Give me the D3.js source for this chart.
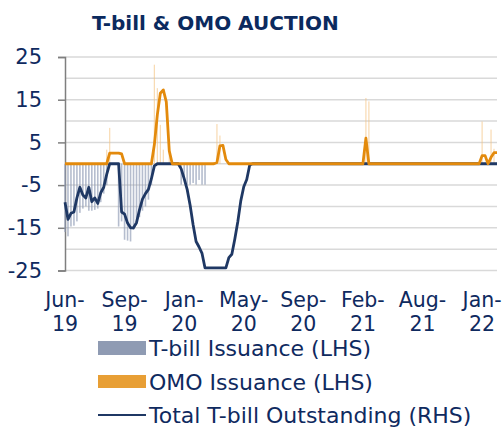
<!DOCTYPE html>
<html>
<head>
<meta charset="utf-8">
<script src="https://cdn.jsdelivr.net/npm/d3@7"></script>
<style>
  body { margin: 0; background: #fff; }
  text { font-family: "DejaVu Sans", Verdana, sans-serif; fill: #0f2a5f; }
</style>
</head>
<body>
<div id="grafico"></div>
<script>
// Datos (una categoria por subasta, etiqueta cada 20 categorias)
var tickLabels = ["Jun-19", "Sep-19", "Jan-20", "May-20", "Sep-20", "Feb-21", "Aug-21", "Jan-22"];
var labelStep = 20;

// T-bill Issuance (LHS) - barras negativas
var tbillIssuance = [
  -16, -17, -14.7, -14.5, -13.5, -11.5, -10.5, -10, -11, -11, -10.8, -10.5, -9, -7, -5, 0, 0, 0, -14.7, -13.5,
  -17.8, -18, -18.2, -15.5, -14, -12.5, -11, -10, -8.4, -5, 0, 0, 0, 0, 0, 0, 0, 0, 0, -4.9,
  -3.5, -4.9, -4.9, -4.5, -4.9, -3.8, -4.9, -4.9, 0, 0, 0, 0, 0, 0, 0, 0, 0, 0, 0, 0,
  0, 0, 0, 0, 0, 0, 0, 0, 0, 0, 0, 0, 0, 0, 0, 0, 0, 0, 0, 0,
  0, 0, 0, 0, 0, 0, 0, 0, 0, 0, 0, 0, 0, 0, 0, 0, 0, 0, 0, 0,
  0, 0, 0, 0, 0, 0, 0, 0, 0, 0, 0, 0, 0, 0, 0, 0, 0, 0, 0, 0,
  0, 0, 0, 0, 0, 0, 0, 0, 0, 0, 0, 0, 0, 0, 0, 0, 0, 0, 0, 0,
  0, 0, 0, 0, 0, 0
];

// OMO Issuance (LHS) - barras positivas
var omoIssuance = [
  0, 0, 0, 0, 0, 0, 0, 0, 0, 0, 0, 0, 0, 0, 3.3, 8.4, 0, 0, 0, 0,
  0, 0, 0, 0, 0, 0, 0, 0, 0, 0, 23.2, 17.7, 9.1, 3.3, 0, 3.3, 0, 0, 0, 0,
  0, 0, 0, 0, 0, 0, 0, 0, 0, 0, 0, 9.3, 6.6, 0, 0, 0, 0, 0, 0, 0,
  0, 0, 0, 0, 0, 0, 0, 0, 0, 0, 0, 0, 0, 0, 0, 0, 0, 0, 0, 0,
  0, 0, 0, 0, 0, 0, 0, 0, 0, 0, 0, 0, 0, 0, 0, 0, 0, 0, 0, 0,
  0, 15.4, 14.6, 0, 0, 0, 0, 0, 0, 0, 0, 0, 0, 0, 0, 0, 0, 0, 0, 0,
  0, 0, 0, 0, 0, 0, 0, 0, 0, 0, 0, 0, 0, 0, 0, 0, 0, 0, 0, 0,
  9.9, 0, 0, 8, 3.5, 0
];

// Total T-bill Outstanding (RHS) - linea azul
var tbillOutstanding = [
  -9, -13, -11.6, -11.3, -8, -5.5, -7.3, -8, -5.5, -8.9, -8, -9.3, -6.8, -5.5, -2.5, 0, 0, 0, 0, -11.3,
  -11.8, -13.9, -15, -15, -13.8, -10.8, -8.3, -7, -6, -3.5, -0.5, 0, 0, 0, 0, 0, 0, 0, 0, -1.2,
  -3.5, -6, -9.7, -14.3, -18.2, -19.5, -21, -24.4, -24.4, -24.4, -24.4, -24.4, -24.4, -24.4, -24.4, -22, -21.2, -17.6, -13.6, -8.7,
  -5.4, -3.7, -0.3, 0, 0, 0, 0, 0, 0, 0, 0, 0, 0, 0, 0, 0, 0, 0, 0, 0,
  0, 0, 0, 0, 0, 0, 0, 0, 0, 0, 0, 0, 0, 0, 0, 0, 0, 0, 0, 0,
  0, 0, 0, 0, 0, 0, 0, 0, 0, 0, 0, 0, 0, 0, 0, 0, 0, 0, 0, 0,
  0, 0, 0, 0, 0, 0, 0, 0, 0, 0, 0, 0, 0, 0, 0, 0, 0, 0, 0, 0,
  0, 0, 0, 0, 0, 0
];

// OMO Outstanding - linea naranja
var omoOutstanding = [
  0, 0, 0, 0, 0, 0, 0, 0, 0, 0, 0, 0, 0, 0, 0, 2.5, 2.5, 2.5, 2.5, 2.3,
  0, 0, 0, 0, 0, 0, 0, 0, 0, 0, 4.5, 11.5, 16.5, 17.3, 14.5, 3, 0, 0, 0, 0,
  0, 0, 0, 0, 0, 0, 0, 0, 0, 0, 0, 0.3, 4.2, 4.3, 1, 0, 0, 0, 0, 0,
  0, 0, 0, 0, 0, 0, 0, 0, 0, 0, 0, 0, 0, 0, 0, 0, 0, 0, 0, 0,
  0, 0, 0, 0, 0, 0, 0, 0, 0, 0, 0, 0, 0, 0, 0, 0, 0, 0, 0, 0,
  0, 6, 0, 0, 0, 0, 0, 0, 0, 0, 0, 0, 0, 0, 0, 0, 0, 0, 0, 0,
  0, 0, 0, 0, 0, 0, 0, 0, 0, 0, 0, 0, 0, 0, 0, 0, 0, 0, 0, 0,
  1.9, 1.9, 0, 1.5, 2.6, 2.6
];

var yTicks = [25, 15, 5, -5, -15, -25];

// Dimensiones del grafico
var width = 504,
    height = 429,
    plotLeft = 65, plotRight = 497, plotTop = 57, plotBottom = 270.5;

var svg = d3.select("#grafico")
    .append("svg")
    .attr("width", width)
    .attr("height", height);

var x = d3.scaleLinear()
    .domain([0, tbillOutstanding.length - 1])
    .range([plotLeft, plotRight]);

var y = d3.scaleLinear()
    .domain([-25, 25])
    .range([plotBottom, plotTop]);

// Titulo
svg.append("text")
    .attr("x", 92).attr("y", 30)
    .style("font-size", "20px")
    .style("font-weight", "bold")
    .style("fill", "#0b2a5e")
    .text("T-bill & OMO AUCTION");

// Lineas de rejilla
svg.append("g")
    .selectAll("line")
    .data(d3.range(-25, 26, 5))
    .enter()
    .append("line")
    .attr("x1", plotLeft).attr("x2", plotRight)
    .attr("y1", function(d) { return y(d); })
    .attr("y2", function(d) { return y(d); })
    .style("stroke", "#d9d9d9")
    .style("stroke-width", 1.5);

// Eje Y (guion normal, no signo menos tipografico)
var ejeY = svg.append("g")
    .attr("transform", "translate(" + plotLeft + ",0)")
    .call(d3.axisLeft(y).tickValues(yTicks).tickSize(7).tickPadding(16)
        .tickFormat(function(d) { return String(d); }));
ejeY.select(".domain").style("stroke", "#7f7f7f").style("stroke-width", 1.5);
ejeY.selectAll(".tick line").style("stroke", "#7f7f7f").style("stroke-width", 1.5);
ejeY.selectAll(".tick text")
    .style("font-size", "21px")
    .style("font-family", "DejaVu Sans")
    .style("fill", "#0f2a5f");

// Etiquetas eje X
var etiquetas = svg.append("g")
    .selectAll("text")
    .data(tickLabels)
    .enter()
    .append("text")
    .attr("text-anchor", "middle")
    .style("font-size", "20.5px");
etiquetas.append("tspan")
    .attr("x", function(d, i) { return x(i * labelStep); })
    .attr("y", 307)
    .text(function(d) { return d.split("-")[0] + "-"; });
etiquetas.append("tspan")
    .attr("x", function(d, i) { return x(i * labelStep); })
    .attr("y", 331)
    .text(function(d) { return d.split("-")[1]; });

// Barras T-bill
svg.append("g")
    .selectAll("rect")
    .data(tbillIssuance.map(function(v, i) { return {i: i, v: v}; }).filter(function(d) { return d.v !== 0; }))
    .enter()
    .append("rect")
    .attr("x", function(d) { return x(d.i) - 0.8; })
    .attr("width", 1.6)
    .attr("y", y(0))
    .attr("height", function(d) { return y(d.v) - y(0); })
    .style("fill", "#8e9ab3")
    .style("opacity", 0.65);

// Barras OMO
svg.append("g")
    .selectAll("rect")
    .data(omoIssuance.map(function(v, i) { return {i: i, v: v}; }).filter(function(d) { return d.v !== 0; }))
    .enter()
    .append("rect")
    .attr("x", function(d) { return x(d.i) - 0.6; })
    .attr("width", 1.2)
    .attr("y", function(d) { return y(d.v); })
    .attr("height", function(d) { return y(0) - y(d.v); })
    .style("fill", "#f3c27f")
    .style("opacity", 0.6);

// Lineas
var linea = d3.line()
    .x(function(d, i) { return x(i); })
    .y(function(d) { return y(d); });

svg.append("path")
    .attr("d", linea(tbillOutstanding))
    .style("fill", "none")
    .style("stroke", "#1f3864")
    .style("stroke-width", 2.8)
    .style("stroke-linejoin", "round");

svg.append("path")
    .attr("d", linea(omoOutstanding))
    .style("fill", "none")
    .style("stroke", "#e38a0c")
    .style("stroke-width", 2.8)
    .style("stroke-linejoin", "round");

// Leyenda
var leyenda = svg.append("g");
leyenda.append("rect").attr("x", 98).attr("y", 341).attr("width", 48).attr("height", 14).style("fill", "#8f9bb3");
leyenda.append("rect").attr("x", 98).attr("y", 375).attr("width", 48).attr("height", 13).style("fill", "#e89f35");
leyenda.append("line").attr("x1", 98).attr("x2", 146).attr("y1", 415).attr("y2", 415)
    .style("stroke", "#1f3864").style("stroke-width", 2);

drawText(leyenda, 149, 356, "T-bill Issuance (LHS)");
drawText(leyenda, 149, 390, "OMO Issuance (LHS)");
drawText(leyenda, 149, 423, "Total T-bill Outstanding (RHS)");

// Funcion auxiliar para pintar texto
function drawText(element, px, py, texto) {
    element.append("text")
        .attr("x", px).attr("y", py)
        .style("font-size", "22px")
        .text(texto);
    return element;
}
</script>
</body>
</html>
